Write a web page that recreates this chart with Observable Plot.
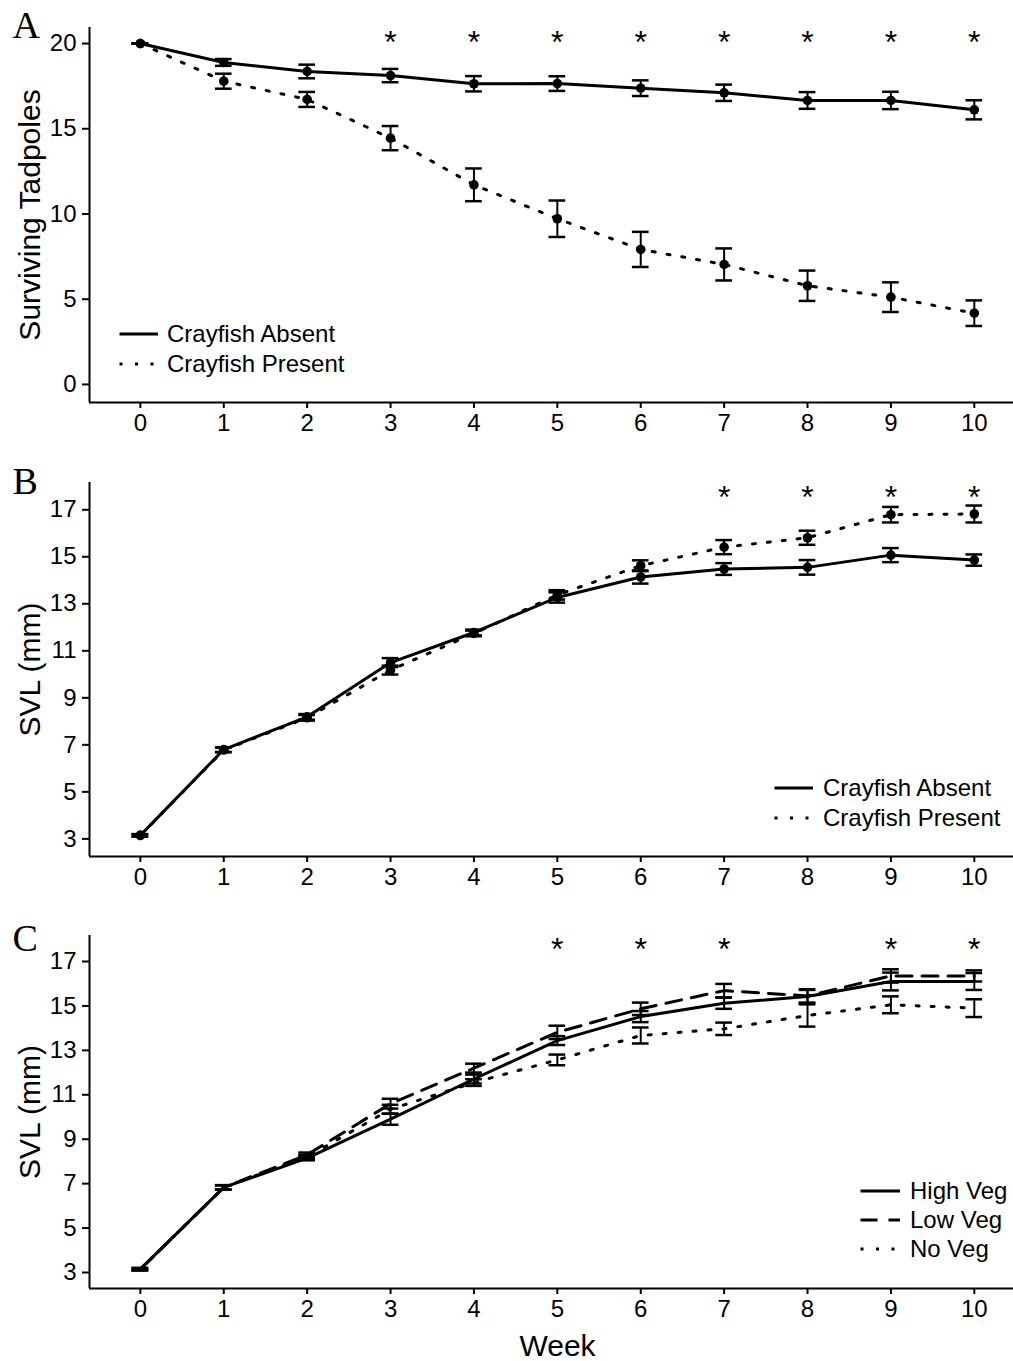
<!DOCTYPE html>
<html><head><meta charset="utf-8">
<script src="https://cdn.jsdelivr.net/npm/d3@7"></script>
<script src="https://cdn.jsdelivr.net/npm/@observablehq/plot@0.6"></script>
<style>
body{margin:0;background:#fff;}
#wrap{position:relative;width:1013px;height:1361px;overflow:hidden;background:#fff;}
#wrap > svg{display:block}
#overlay{position:absolute;left:0;top:0;pointer-events:none}
</style></head><body><div id="wrap"></div>
<script>
// ---------- data ----------
const weeks = [0, 1, 2, 3, 4, 5, 6, 7, 8, 9, 10];

// Panel A: surviving tadpoles
const survAbsent     = [20, 18.89, 18.36, 18.12, 17.64, 17.65, 17.38, 17.11, 16.66, 16.66, 16.11];
const survAbsentSE   = [0, 0.20, 0.40, 0.39, 0.45, 0.43, 0.46, 0.48, 0.49, 0.51, 0.56];
const survPresent    = [20, 17.79, 16.72, 14.45, 11.71, 9.72, 7.92, 7.04, 5.79, 5.12, 4.18];
const survPresentSE  = [0, 0.44, 0.44, 0.71, 0.96, 1.07, 1.03, 0.94, 0.89, 0.87, 0.75];
const sigA = [3, 4, 5, 6, 7, 8, 9, 10];
const ticksA = [0, 5, 10, 15, 20];

// Panel B: SVL by crayfish treatment
const svlAbsent      = [3.15, 6.80, 8.19, 10.50, 11.78, 13.27, 14.14, 14.48, 14.55, 15.07, 14.86];
const svlAbsentSE    = [0.05, 0.10, 0.12, 0.19, 0.12, 0.22, 0.28, 0.25, 0.31, 0.30, 0.24];
const svlPresent     = [3.15, 6.78, 8.15, 10.18, 11.74, 13.38, 14.62, 15.41, 15.81, 16.79, 16.82];
const svlPresentSE   = [0.05, 0.10, 0.12, 0.19, 0.12, 0.20, 0.23, 0.30, 0.30, 0.33, 0.36];
const sigB = [7, 8, 9, 10];

// Panel C: SVL by vegetation treatment
const highVeg   = [3.15, 6.83, 8.15, 9.90, 11.71, 13.44, 14.52, 15.12, 15.42, 16.10, 16.10];
const highVegSE = [0.05, 0.10, 0.10, 0.25, 0.20, 0.20, 0.25, 0.25, 0.30, 0.40, 0.38];
const lowVeg    = [3.15, 6.83, 8.30, 10.60, 12.20, 13.81, 14.87, 15.69, 15.45, 16.35, 16.35];
const lowVegSE  = [0.05, 0.10, 0.10, 0.22, 0.20, 0.30, 0.28, 0.30, 0.30, 0.30, 0.25];
const noVeg     = [3.15, 6.83, 8.20, 10.35, 11.55, 12.57, 13.67, 13.97, 14.57, 15.05, 14.90];
const noVegSE   = [0.05, 0.10, 0.10, 0.20, 0.15, 0.24, 0.36, 0.28, 0.50, 0.38, 0.40];
const sigC = [5, 6, 7, 9, 10];
const ticksSVL = [3, 5, 7, 9, 11, 13, 15, 17];

const labelsA = ["Crayfish Absent", "Crayfish Present"];
const labelsC = ["High Veg", "Low Veg", "No Veg"];

// ---------- styling ----------
const SANS = "'Liberation Sans', Arial, Helvetica, sans-serif";
const SERIF = "'Liberation Serif', 'Times New Roman', Times, serif";
const SOLID = null, DOTTED = "3,12", DASHED = "16,10";
const xDomain = [-0.61, 10.47];
const cap = 0.1;

function rows(values, se) {
  return weeks.map((w, i) => ({week: w, m: values[i], se: se[i]}));
}

function panel(cfg) {
  const marks = [
    Plot.ruleX([xDomain[0]], {stroke: "black", strokeWidth: 2}),
    Plot.ruleY([cfg.yDomain[0]], {stroke: "black", strokeWidth: 2}),
    Plot.axisX({ticks: weeks, tickSize: 6, tickPadding: 5, fontSize: 24, strokeWidth: 2, label: null, tickFormat: d3.format("d")}),
    Plot.axisY({ticks: cfg.yTicks, tickSize: 7, tickPadding: 6, fontSize: 24, strokeWidth: 2, label: null, tickFormat: d3.format("d")})
  ];
  for (const s of cfg.series) {
    const r = rows(s.values, s.se);
    marks.push(Plot.line(r, {x: "week", y: "m", stroke: "black", strokeWidth: 3, strokeDasharray: s.dash}));
  }
  for (const s of cfg.series) {
    const r = rows(s.values, s.se);
    marks.push(Plot.ruleX(r, {x: "week", y1: d => d.m - d.se, y2: d => d.m + d.se, stroke: "black", strokeWidth: 2}));
    marks.push(Plot.ruleY(r, {y: d => d.m - d.se, x1: d => d.week - cap, x2: d => d.week + cap, stroke: "black", strokeWidth: 2.5}));
    marks.push(Plot.ruleY(r, {y: d => d.m + d.se, x1: d => d.week - cap, x2: d => d.week + cap, stroke: "black", strokeWidth: 2.5}));
    if (cfg.points) marks.push(Plot.dot(r, {x: "week", y: "m", r: 4.8, fill: "black", stroke: "none"}));
  }
  marks.push(Plot.text(cfg.sig, {x: d => d, y: () => cfg.sigY, text: () => "*", fontSize: 32, fontFamily: SANS, fill: "black"}));
  marks.push(Plot.text([cfg.letter], {text: d => d, frameAnchor: "top-left", dx: -77, dy: cfg.letterDy, fontSize: 38, fontFamily: SERIF, textAnchor: "start", lineAnchor: "bottom", fill: "black"}));
  marks.push(Plot.text([cfg.yLabel], {text: d => d, frameAnchor: "left", rotate: -90, dx: -59, fontSize: 30, fontFamily: SANS, textAnchor: "middle", lineAnchor: "middle", fill: "black"}));
  if (cfg.xLabel) marks.push(Plot.text([cfg.xLabel], {text: d => d, frameAnchor: "bottom", dx: 6, dy: 67, fontSize: 30, fontFamily: SANS, textAnchor: "middle", lineAnchor: "bottom", fill: "black"}));

  return Plot.plot({
    width: 1013,
    height: cfg.height,
    marginLeft: 89,
    marginRight: 0,
    marginTop: cfg.marginTop,
    marginBottom: cfg.marginBottom,
    x: {domain: xDomain},
    y: {domain: cfg.yDomain},
    style: {fontFamily: SANS, fontSize: "24px", color: "black", background: "white", overflow: "visible"},
    marks
  });
}

const wrap = document.getElementById("wrap");
wrap.appendChild(panel({
  height: 455, marginTop: 27, marginBottom: 53,
  yDomain: [-1.06, 20.94], yTicks: ticksA, points: true,
  series: [
    {values: survAbsent, se: survAbsentSE, dash: SOLID},
    {values: survPresent, se: survPresentSE, dash: DOTTED}
  ],
  sig: sigA, sigY: 20.04, letter: "A", letterDy: 10, yLabel: "Surviving Tadpoles"
}));
wrap.appendChild(panel({
  height: 455, marginTop: 27, marginBottom: 54,
  yDomain: [2.25, 18.16], yTicks: ticksSVL, points: true,
  series: [
    {values: svlAbsent, se: svlAbsentSE, dash: SOLID},
    {values: svlPresent, se: svlPresentSE, dash: DOTTED}
  ],
  sig: sigB, sigY: 17.51, letter: "B", letterDy: 11, yLabel: "SVL (mm)"
}));
wrap.appendChild(panel({
  height: 451, marginTop: 25, marginBottom: 73,
  yDomain: [2.28, 18.17], yTicks: ticksSVL, points: false,
  series: [
    {values: highVeg, se: highVegSE, dash: SOLID},
    {values: lowVeg, se: lowVegSE, dash: DASHED},
    {values: noVeg, se: noVegSE, dash: DOTTED}
  ],
  sig: sigC, sigY: 17.51, letter: "C", letterDy: 15, yLabel: "SVL (mm)", xLabel: "Week"
}));

// ---------- legends (overlay) ----------
const overlay = d3.select(wrap).append("svg").attr("id", "overlay").attr("width", 1013).attr("height", 1361);
function legend(items, x0, x1, tx, y0, step) {
  items.forEach((it, i) => {
    const y = y0 + i * step;
    overlay.append("line").attr("x1", x0).attr("x2", x1).attr("y1", y).attr("y2", y)
      .attr("stroke", "black").attr("stroke-width", 3).attr("stroke-dasharray", it.dash);
    overlay.append("text").attr("x", tx).attr("y", y).attr("dy", "0.35em")
      .attr("font-family", SANS).attr("font-size", 24).attr("fill", "black").text(it.label);
  });
}
legend([{label: labelsA[0], dash: SOLID}, {label: labelsA[1], dash: "3,12.5"}], 119.5, 158, 167, 334, 30);
legend([{label: labelsA[0], dash: SOLID}, {label: labelsA[1], dash: "3,12.5"}], 774.5, 813, 823, 788, 30);
legend([{label: labelsC[0], dash: SOLID}, {label: labelsC[1], dash: "17,11"}, {label: labelsC[2], dash: "3,12.5"}], 860.5, 900, 910, 1191, 29);
</script>
</body></html>
